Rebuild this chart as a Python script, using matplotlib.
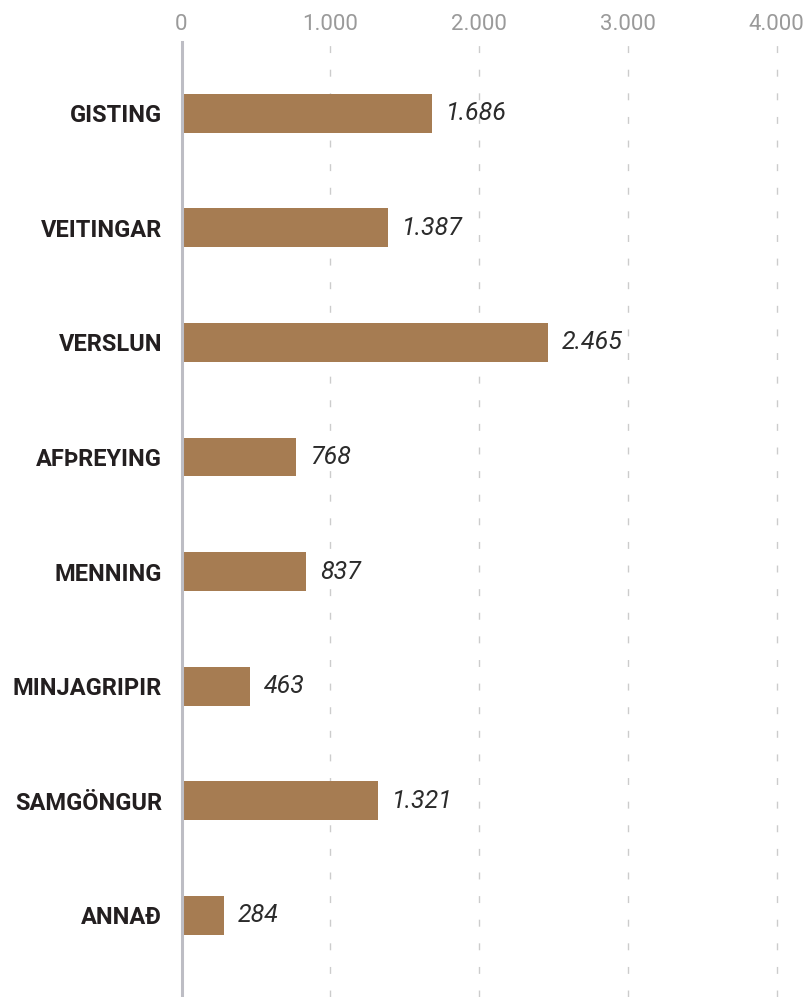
import matplotlib
matplotlib.use("Agg")
import matplotlib.pyplot as plt

categories = ["GISTING", "VEITINGAR", "VERSLUN", "AFÞREYING", "MENNING", "MINJAGRIPIR", "SAMGÖNGUR", "ANNAÐ"]
values = [1686, 1387, 2465, 768, 837, 463, 1321, 284]
xticks = [0, 1000, 2000, 3000, 4000]
xtick_labels = ["0", "1.000", "2.000", "3.000", "4.000"]

fam = ["Roboto", "DejaVu Sans"]

fig = plt.figure(figsize=(8.11, 9.97), dpi=100)
ax = fig.add_axes([181.5/811, 0.0, 1 - 181.5/811, 1 - 42/997])

y = list(range(len(categories)))
ax.barh(y, values, height=0.338, color="#A67C52", zorder=3)
ax.set_xlim(0, 4231)
ax.set_ylim(7.713, -0.622)

for v, yy in zip(values, y):
    ax.annotate(f"{v:,}".replace(",", "."), xy=(v, yy), xytext=(10, 0),
                textcoords="offset points", va="center", ha="left",
                fontsize=18, style="italic", color="#2b2b2b", family=fam)

ax.set_yticks(y)
ax.set_yticklabels(categories, fontsize=17, fontweight="bold", color="#231f20", family=fam)
ax.tick_params(axis="y", length=0, pad=14)

ax.xaxis.tick_top()
ax.set_xticks(xticks)
ax.set_xticklabels(xtick_labels, fontsize=16, color="#9a9a9a", family=fam)
ax.tick_params(axis="x", length=0, pad=5)

for x in xticks[1:]:
    ax.axvline(x, color="#cccccc", linewidth=1.0, linestyle=(0, (5, 12)), zorder=1)

for s in ["top", "right", "bottom"]:
    ax.spines[s].set_visible(False)
ax.spines["left"].set_color("#bdbdc4")
ax.spines["left"].set_linewidth(2.2)
ax.spines["left"].set_zorder(4)

fig.savefig("out.png", dpi=100)
